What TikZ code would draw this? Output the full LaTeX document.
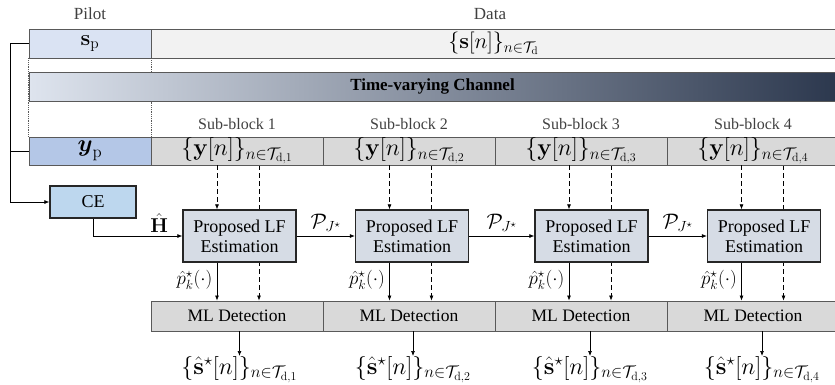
\RequirePackage{fix-cm}
\documentclass[tikz,border=0pt]{standalone}
\usepackage{amsmath,amssymb}
\usepackage[no-math]{fontspec}
\setmainfont{Liberation Serif}
\usetikzlibrary{arrows.meta}
\pgfdeclarelayer{bg}
\pgfsetlayers{bg,main}
\definecolor{spc}{RGB}{218,227,243}
\definecolor{datac}{RGB}{242,242,242}
\definecolor{ypc}{RGB}{180,199,231}
\definecolor{cellg}{RGB}{217,217,217}
\definecolor{cec}{RGB}{189,215,238}
\definecolor{lfc}{RGB}{214,220,229}
\definecolor{chL}{RGB}{222,228,238}
\definecolor{chR}{RGB}{44,56,78}
\definecolor{bord}{RGB}{89,89,89}
\definecolor{labc}{RGB}{64,64,64}
\tikzset{
  cell/.style={draw=bord, line width=0.9pt, inner sep=0pt, minimum height=29pt},
  blk/.style={draw=black!85, line width=1.3pt, inner sep=0pt, align=center, font=\fontsize{18}{20}\selectfont},
  toplab/.style={text=labc, inner sep=1pt},
  rowmath/.style={font=\fontsize{24}{26}\selectfont},
  smallmath/.style={font=\fontsize{19}{21}\selectfont},
  arr/.style={-{Latex[length=5pt,width=4pt]}, line width=0.7pt},
  dsh/.style={dash pattern=on 5pt off 3pt},
}
\begin{document}
\begin{tikzpicture}[x=1pt,y=-1pt, font=\fontsize{16}{19}\selectfont]
\useasboundingbox (0,0) rectangle (835,384);
% labels above
\node[toplab, font=\fontsize{17}{19}\selectfont] (pilot) at (90,14) {Pilot};
\node[toplab, font=\fontsize{17}{19}\selectfont] (data) at (490,14) {Data};
% transmitted row
\node[cell, fill=spc, minimum width=122pt, font=\fontsize{22}{24}\selectfont] (sp) at (90,43.5) {$\mathbf{s}_\mathrm{p}$};
\node[cell, fill=datac, minimum width=685pt, font=\fontsize{22}{24}\selectfont] (sd) at (493.5,43.5) {$\{\mathbf{s}[n]\}_{n\in\mathcal{T}_\mathrm{d}}$};
% channel
\node[cell, left color=chL, right color=chR, minimum width=807pt, font=\fontsize{17}{19}\selectfont\bfseries] (ch) at (432.5,86.5) {Time-varying Channel};
% received row
\node[cell, fill=ypc, minimum width=122pt, minimum height=28pt, rowmath] (yp) at (90,151) {$\boldsymbol{y}_\mathrm{p}$};
\node[cell, fill=cellg, minimum width=172pt, minimum height=28pt, rowmath] (y1) at (237,151) {$\{\mathbf{y}[n]\}_{n\in\mathcal{T}_{\mathrm{d},1}}$};
\node[cell, fill=cellg, minimum width=172pt, minimum height=28pt, rowmath] (y2) at (409,151) {$\{\mathbf{y}[n]\}_{n\in\mathcal{T}_{\mathrm{d},2}}$};
\node[cell, fill=cellg, minimum width=172pt, minimum height=28pt, rowmath] (y3) at (581,151) {$\{\mathbf{y}[n]\}_{n\in\mathcal{T}_{\mathrm{d},3}}$};
\node[cell, fill=cellg, minimum width=172pt, minimum height=28pt, rowmath] (y4) at (753,151) {$\{\mathbf{y}[n]\}_{n\in\mathcal{T}_{\mathrm{d},4}}$};
\node[toplab] (sb1) at (237,124) {Sub-block 1};
\node[toplab] (sb2) at (409,124) {Sub-block 2};
\node[toplab] (sb3) at (581,124) {Sub-block 3};
\node[toplab] (sb4) at (753,124) {Sub-block 4};
% CE
\node[blk, fill=cec, minimum width=86pt, minimum height=32pt] (ce) at (93,202) {CE};
% LF estimation blocks
\node[blk, fill=lfc, minimum width=113pt, minimum height=52pt] (lf1) at (239.5,236) {Proposed LF\\Estimation};
\node[blk, fill=lfc, minimum width=113pt, minimum height=52pt] (lf2) at (412,236) {Proposed LF\\Estimation};
\node[blk, fill=lfc, minimum width=113pt, minimum height=52pt] (lf3) at (591.5,236) {Proposed LF\\Estimation};
\node[blk, fill=lfc, minimum width=113pt, minimum height=52pt] (lf4) at (764,236) {Proposed LF\\Estimation};
% ML detection row
\node[cell, fill=cellg, minimum width=172pt, minimum height=30pt, font=\fontsize{17.5}{19}\selectfont] (ml1) at (237,316) {ML Detection};
\node[cell, fill=cellg, minimum width=172pt, minimum height=30pt, font=\fontsize{17.5}{19}\selectfont] (ml2) at (409,316) {ML Detection};
\node[cell, fill=cellg, minimum width=172pt, minimum height=30pt, font=\fontsize{17.5}{19}\selectfont] (ml3) at (581,316) {ML Detection};
\node[cell, fill=cellg, minimum width=172pt, minimum height=30pt, font=\fontsize{17.5}{19}\selectfont] (ml4) at (753,316) {ML Detection};
% outputs
\node[anchor=north, inner sep=0pt, font=\fontsize{24}{26}\selectfont] (o1) at (239.5,356) {$\{\hat{\mathbf{s}}^\star[n]\}_{n\in\mathcal{T}_{\mathrm{d},1}}$};
\node[anchor=north, inner sep=0pt, font=\fontsize{24}{26}\selectfont] (o2) at (413,356) {$\{\hat{\mathbf{s}}^\star[n]\}_{n\in\mathcal{T}_{\mathrm{d},2}}$};
\node[anchor=north, inner sep=0pt, font=\fontsize{24}{26}\selectfont] (o3) at (590,356) {$\{\hat{\mathbf{s}}^\star[n]\}_{n\in\mathcal{T}_{\mathrm{d},3}}$};
\node[anchor=north, inner sep=0pt, font=\fontsize{24}{26}\selectfont] (o4) at (762,356) {$\{\hat{\mathbf{s}}^\star[n]\}_{n\in\mathcal{T}_{\mathrm{d},4}}$};
\coordinate (lx) at (10,0);
% dotted guides and pass-through dashed lines
\begin{pgfonlayer}{bg}
\draw[bord, densely dotted, line width=0.8pt] (sp.south west) -- (yp.north west);
\draw[bord, densely dotted, line width=0.8pt] (sp.south east) -- (yp.north east);
\foreach \i in {1,2,3,4}{
  \coordinate (b\i) at ([xshift=19.5pt]lf\i.north);
  \draw[arr, dsh] (b\i |- y\i.south) -- (b\i |- ml\i.north);
}
\end{pgfonlayer}
% pilot paths
\draw[arr] (sp.west) -- (sp.west -| lx) |- (ce.west);
\draw[line width=0.7pt] (yp.west) -- (yp.west -| lx);
\draw[arr] (ce.south) |- (lf1.west) node[pos=0.87, above=0pt, font=\fontsize{20}{22}\selectfont] {$\hat{\mathbf{H}}$};
% LF chain
\draw[arr] (lf1.east) -- (lf2.west) node[midway, above=1pt, font=\fontsize{21}{23}\selectfont] {$\mathcal{P}_{J^\star}$};
\draw[arr] (lf2.east) -- (lf3.west) node[midway, above=1pt, font=\fontsize{21}{23}\selectfont] {$\mathcal{P}_{J^\star}$};
\draw[arr] (lf3.east) -- (lf4.west) node[midway, above=1pt, font=\fontsize{21}{23}\selectfont] {$\mathcal{P}_{J^\star}$};
\foreach \i in {1,2,3,4}{
  \coordinate (a\i) at ([xshift=-22.5pt]lf\i.north);
  \draw[arr, dsh] (a\i |- y\i.south) -- (a\i);
  \draw[arr] (a\i |- lf\i.south) -- (a\i |- ml\i.north) node[pos=0.45, left=1pt, smallmath] {$\hat{p}_k^\star(\cdot)$};
  \draw[arr] (o\i.north |- ml\i.south) -- (o\i.north);
}
\end{tikzpicture}
\end{document}
